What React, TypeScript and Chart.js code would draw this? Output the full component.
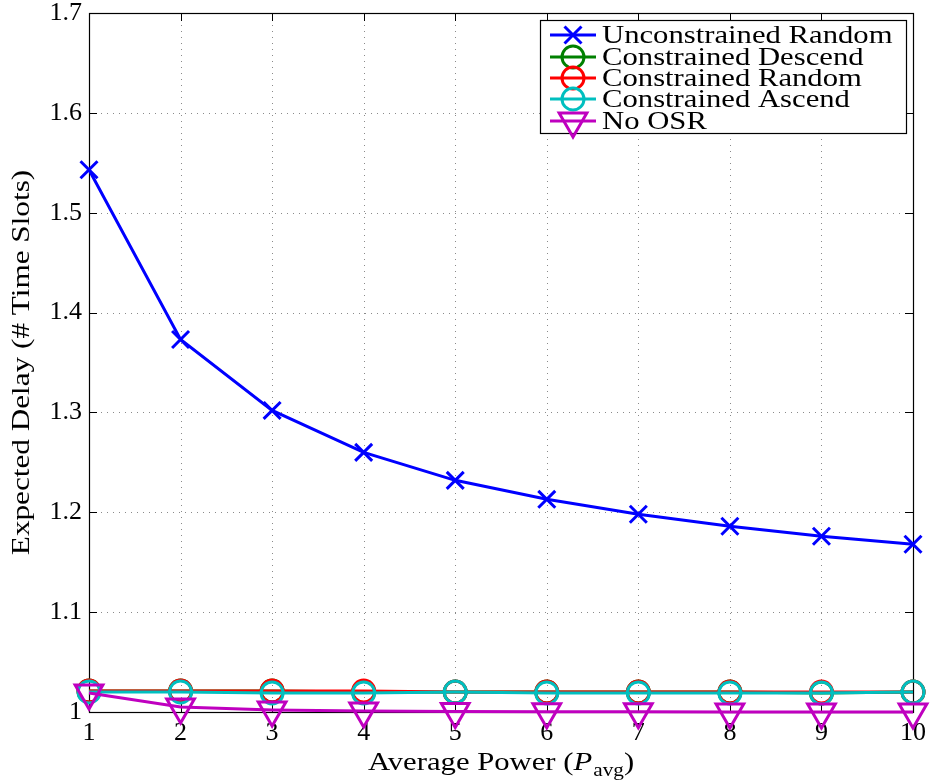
import React, { useEffect, useRef } from "react";
import { Chart, registerables } from "chart.js";
Chart.register(...registerables);

const powers = [1, 2, 3, 4, 5, 6, 7, 8, 9, 10];
const unconstrainedRandom = [1.543, 1.373, 1.302, 1.26, 1.232, 1.213, 1.198, 1.186, 1.176, 1.168];
const constrainedDescend = [1.021, 1.021, 1.021, 1.020, 1.020, 1.020, 1.020, 1.020, 1.019, 1.020];
const constrainedRandom = [1.021, 1.021, 1.021, 1.021, 1.020, 1.020, 1.020, 1.020, 1.020, 1.020];
const constrainedAscend = [1.020, 1.020, 1.019, 1.019, 1.020, 1.019, 1.019, 1.019, 1.019, 1.020];
const noOSR = [1.019, 1.005, 1.002, 1.001, 1.0005, 1.0003, 1.0002, 1.0001, 1.0001, 1.0001];
const yTickValues = [1, 1.1, 1.2, 1.3, 1.4, 1.5, 1.6, 1.7];
const seriesLabels = ["Unconstrained Random", "Constrained Descend", "Constrained Random", "Constrained Ascend", "No OSR"];

const FONT = "'Liberation Serif', 'Times New Roman', serif";
const STRETCH = 1.18;

const toPts = (vals: number[]) => vals.map((v, i) => ({ x: powers[i], y: v }));

function drawMarker(ctx: CanvasRenderingContext2D, style: string, r: number, x: number, y: number) {
  ctx.beginPath();
  if (style === "crossRot") {
    const o = Math.cos(Math.PI / 4) * r;
    ctx.moveTo(x - o, y - o);
    ctx.lineTo(x + o, y + o);
    ctx.moveTo(x - o, y + o);
    ctx.lineTo(x + o, y - o);
  } else if (style === "circle") {
    ctx.arc(x, y, r, 0, Math.PI * 2);
  } else if (style === "triangle") {
    const s = Math.sin(Math.PI / 3) * r;
    ctx.moveTo(x, y + r);
    ctx.lineTo(x - s, y - r / 2);
    ctx.lineTo(x + s, y - r / 2);
    ctx.closePath();
  }
  ctx.stroke();
}

function stretchedText(ctx: CanvasRenderingContext2D, text: string, x: number, y: number) {
  ctx.save();
  ctx.translate(x, y);
  ctx.scale(STRETCH, 1);
  ctx.fillText(text, 0, 0);
  ctx.restore();
}

const framePlugin = {
  id: "frame",
  beforeDatasetsDraw(chart: any) {
    const { ctx, chartArea: a, scales } = chart;
    const xs = scales.x, ys = scales.y;
    ctx.save();
    ctx.strokeStyle = "#8a8a8a";
    ctx.lineWidth = 1;
    ctx.setLineDash([1, 5]);
    powers.forEach((p) => {
      const px = Math.round(xs.getPixelForValue(p)) + 0.5;
      ctx.beginPath();
      ctx.moveTo(px, a.top);
      ctx.lineTo(px, a.bottom);
      ctx.stroke();
    });
    yTickValues.forEach((v) => {
      const py = Math.round(ys.getPixelForValue(v)) + 0.5;
      ctx.beginPath();
      ctx.moveTo(a.left, py);
      ctx.lineTo(a.right, py);
      ctx.stroke();
    });
    ctx.setLineDash([]);
    ctx.strokeStyle = "#000";
    const tl = 8;
    powers.forEach((p) => {
      const px = Math.round(xs.getPixelForValue(p)) + 0.5;
      ctx.beginPath();
      ctx.moveTo(px, a.bottom);
      ctx.lineTo(px, a.bottom - tl);
      ctx.moveTo(px, a.top);
      ctx.lineTo(px, a.top + tl);
      ctx.stroke();
    });
    yTickValues.forEach((v) => {
      const py = Math.round(ys.getPixelForValue(v)) + 0.5;
      ctx.beginPath();
      ctx.moveTo(a.left, py);
      ctx.lineTo(a.left + tl, py);
      ctx.moveTo(a.right, py);
      ctx.lineTo(a.right - tl, py);
      ctx.stroke();
    });
    ctx.lineWidth = 1.2;
    ctx.strokeRect(Math.round(a.left) + 0.5, Math.round(a.top) + 0.5, Math.round(a.right - a.left), Math.round(a.bottom - a.top));
    ctx.restore();
  },
  afterDraw(chart: any) {
    const { ctx, chartArea: a } = chart;
    ctx.save();
    ctx.fillStyle = "#000";
    ctx.save();
    ctx.translate(22, (a.top + a.bottom) / 2);
    ctx.rotate(-Math.PI / 2);
    ctx.font = `26px ${FONT}`;
    ctx.textAlign = "center";
    ctx.textBaseline = "middle";
    ctx.scale(1.2, 1);
    ctx.fillText("Expected Delay (# Time Slots)", 0, 0);
    ctx.restore();
    const parts = [
      { t: "Average Power (", f: `26px ${FONT}`, dy: 0 },
      { t: "P", f: `italic 26px ${FONT}`, dy: 0 },
      { t: "avg", f: `18px ${FONT}`, dy: 6 },
      { t: ")", f: `26px ${FONT}`, dy: 0 },
    ];
    let total = 0;
    parts.forEach((p) => { ctx.font = p.f; total += ctx.measureText(p.t).width * STRETCH + (p.t === "P" ? 1 : 0); });
    let x = (a.left + a.right) / 2 - total / 2;
    const baseY = 770;
    ctx.textBaseline = "alphabetic";
    ctx.textAlign = "left";
    parts.forEach((p) => {
      ctx.font = p.f;
      stretchedText(ctx, p.t, x, baseY + p.dy);
      x += ctx.measureText(p.t).width * STRETCH + (p.t === "P" ? 1 : 0);
    });
    const lx = 540, ly = 20, lw = 366, lh = 113;
    ctx.fillStyle = "#fff";
    ctx.fillRect(lx, ly, lw, lh);
    ctx.strokeStyle = "#000";
    ctx.lineWidth = 1.2;
    ctx.strokeRect(lx + 0.5, ly + 0.5, lw, lh);
    const rowY = [35, 57, 78, 99, 121];
    chart.data.datasets.forEach((ds: any, i: number) => {
      const y = rowY[i];
      ctx.strokeStyle = ds.borderColor;
      ctx.lineWidth = ds.borderWidth;
      ctx.beginPath();
      ctx.moveTo(550, y);
      ctx.lineTo(596, y);
      ctx.stroke();
      ctx.lineWidth = ds.pointBorderWidth;
      drawMarker(ctx, ds.pointStyle, ds.pointRadius, 573, y);
      ctx.fillStyle = "#000";
      ctx.font = `26px ${FONT}`;
      ctx.textBaseline = "middle";
      ctx.textAlign = "left";
      stretchedText(ctx, ds.label, 602, y + 1);
    });
    ctx.restore();
  },
};

export default function App() {
  const ref = useRef<HTMLCanvasElement>(null);
  useEffect(() => {
    document.body.style.margin = "0";
    const mk = (label: string, vals: number[], color: string, style: string, radius: number, order: number, rot = 0) => ({
      label,
      data: toPts(vals),
      borderColor: color,
      backgroundColor: "rgba(0,0,0,0)",
      pointBackgroundColor: "rgba(0,0,0,0)",
      pointBorderColor: color,
      borderWidth: 3,
      pointBorderWidth: 3,
      pointStyle: style,
      pointRadius: radius,
      pointRotation: rot,
      clip: false as any,
      order,
      tension: 0,
    });
    const chart = new Chart(ref.current!, {
      type: "line",
      data: {
        datasets: [
          mk(seriesLabels[0], unconstrainedRandom, "#0000ff", "crossRot", 12, 5),
          mk(seriesLabels[1], constrainedDescend, "#008000", "circle", 11, 4),
          mk(seriesLabels[2], constrainedRandom, "#ff0000", "circle", 11, 3),
          mk(seriesLabels[3], constrainedAscend, "#00bfbf", "circle", 11, 2),
          mk(seriesLabels[4], noOSR, "#bf00bf", "triangle", 16, 1, 180),
        ],
      },
      options: {
        animation: false,
        responsive: false,
        events: [],
        layout: { autoPadding: false, padding: { top: 13, right: 17, left: 0, bottom: 0 } },
        plugins: { legend: { display: false }, tooltip: { enabled: false } },
        scales: {
          x: {
            type: "linear",
            min: 1,
            max: 10,
            grid: { display: false, drawTicks: false },
            border: { display: false },
            ticks: {
              stepSize: 1,
              color: "#000",
              padding: 6,
              font: { family: FONT, size: 26 },
              maxRotation: 0,
              autoSkip: false,
            },
            afterFit: (s: any) => { s.height = 70; s.paddingLeft = 0; s.paddingRight = 0; },
          },
          y: {
            type: "linear",
            min: 1,
            max: 1.7,
            grid: { display: false, drawTicks: false },
            border: { display: false },
            ticks: {
              stepSize: 0.1,
              color: "#000",
              padding: 7,
              font: { family: FONT, size: 26 },
              callback: (v: any) => String(Number(Number(v).toFixed(1))),
            },
            afterFit: (s: any) => { s.width = 89; s.paddingTop = 0; s.paddingBottom = 0; },
          },
        },
      },
      plugins: [framePlugin],
    });
    return () => chart.destroy();
  }, []);
  return <canvas ref={ref} width={930} height={782} style={{ display: "block" }} />;
}
